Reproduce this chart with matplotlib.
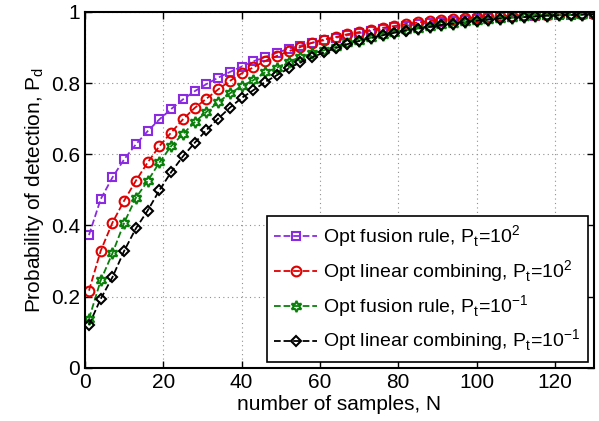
import numpy as np
import matplotlib.pyplot as plt

plt.rcParams['font.family'] = ['Liberation Sans', 'DejaVu Sans']

# number of samples
N = list(range(1, 131, 3))

p_fusion_hi = [0.373, 0.474, 0.535, 0.586, 0.628, 0.665, 0.698, 0.727, 0.754, 0.777,
               0.797, 0.815, 0.831, 0.846, 0.861, 0.873, 0.885, 0.896, 0.905, 0.913,
               0.920, 0.927, 0.934, 0.940, 0.946, 0.951, 0.956, 0.961, 0.965, 0.969,
               0.972, 0.975, 0.978, 0.980, 0.982, 0.984, 0.986, 0.988, 0.989, 0.990,
               0.991, 0.992, 0.993, 0.994]
p_linear_hi = [0.217, 0.329, 0.408, 0.470, 0.526, 0.577, 0.623, 0.661, 0.698, 0.730,
               0.756, 0.782, 0.806, 0.827, 0.844, 0.862, 0.876, 0.889, 0.901, 0.913,
               0.922, 0.929, 0.937, 0.943, 0.949, 0.955, 0.960, 0.966, 0.970, 0.974,
               0.977, 0.980, 0.982, 0.984, 0.986, 0.988, 0.989, 0.990, 0.991, 0.992,
               0.993, 0.994, 0.995, 0.995]
p_fusion_lo = [0.138, 0.246, 0.322, 0.408, 0.478, 0.525, 0.577, 0.623, 0.657, 0.690,
               0.719, 0.746, 0.771, 0.791, 0.808, 0.830, 0.843, 0.859, 0.873, 0.883,
               0.892, 0.901, 0.911, 0.919, 0.927, 0.934, 0.941, 0.948, 0.953, 0.958,
               0.963, 0.967, 0.971, 0.975, 0.978, 0.981, 0.983, 0.985, 0.987, 0.989,
               0.990, 0.991, 0.992, 0.993]
p_linear_lo = [0.121, 0.194, 0.255, 0.329, 0.392, 0.442, 0.499, 0.550, 0.594, 0.632,
               0.668, 0.700, 0.731, 0.758, 0.780, 0.803, 0.822, 0.841, 0.858, 0.872,
               0.886, 0.898, 0.909, 0.918, 0.926, 0.934, 0.941, 0.947, 0.953, 0.958,
               0.963, 0.967, 0.971, 0.975, 0.978, 0.981, 0.983, 0.985, 0.987, 0.989,
               0.990, 0.991, 0.992, 0.993]

labels = [r'Opt fusion rule, P$_\mathregular{t}$=10$^\mathregular{2}$',
          r'Opt linear combining, P$_\mathregular{t}$=10$^\mathregular{2}$',
          r'Opt fusion rule, P$_\mathregular{t}$=10$^\mathregular{-1}$',
          r'Opt linear combining, P$_\mathregular{t}$=10$^\mathregular{-1}$']

fig = plt.figure(figsize=(5.99, 4.21), dpi=100)
ax = fig.add_axes([0.142, 0.126, 0.8497, 0.846])

ax.plot(N, p_fusion_hi, '--', color='#8a2be2', marker='s', ms=6, mfc='none',
        mew=1.5, lw=1.3, label=labels[0])
ax.plot(N, p_linear_hi, '--', color='#e00000', marker='o', ms=7, mfc='none',
        mew=1.5, lw=1.3, label=labels[1])
ax.plot(N, p_fusion_lo, '--', color='#0a800a', marker=(6, 1, 0), ms=8, mfc='none',
        mew=1.5, lw=1.3, label=labels[2])
ax.plot(N, p_linear_lo, '--', color='black', marker='D', ms=5.5, mfc='none',
        mew=1.5, lw=1.3, label=labels[3])

ax.set_xlim(0, 130)
ax.set_ylim(0, 1)
ax.set_xticks(range(0, 121, 20))
ax.set_yticks([0, 0.2, 0.4, 0.6, 0.8, 1])
ax.set_yticklabels(['0', '0.2', '0.4', '0.6', '0.8', '1'])
ax.tick_params(direction='in', top=True, right=True, labelsize=15, length=5, width=1)
ax.grid(True, color='#909090', linestyle=(0, (1, 3)), linewidth=0.8)
for s in ax.spines.values():
    s.set_linewidth(1.5)

ax.set_xlabel('number of samples, N', fontsize=15, labelpad=2)
ax.set_ylabel(r'Probability of detection, P$_\mathregular{d}$', fontsize=15, labelpad=4)

leg = ax.legend(loc='lower right', fontsize=14, handlelength=2.2, handletextpad=0.3,
                borderaxespad=0.3, fancybox=False, edgecolor='black', framealpha=1,
                labelspacing=0.42, borderpad=0.4)
leg.get_frame().set_linewidth(1.2)

plt.savefig('out.png', dpi=100)
